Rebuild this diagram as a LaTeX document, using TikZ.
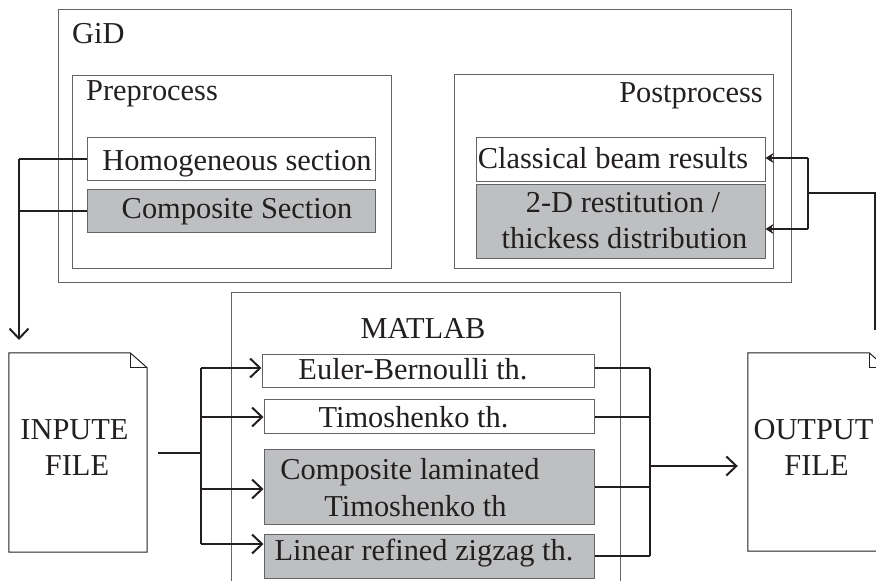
\documentclass[tikz,border=0pt]{standalone}
\usepackage{fontspec}
\setmainfont{Liberation Serif}
\usetikzlibrary{arrows.meta}
\definecolor{frame}{RGB}{100,100,102}
\definecolor{boxfill}{RGB}{190,191,193}
\definecolor{wire}{RGB}{35,31,32}
\begin{document}
\begin{tikzpicture}[x=1pt,y=-1pt,
  txt/.style={font=\fontsize{30.4pt}{36.5pt}\selectfont, inner sep=0pt, anchor=base, text=wire},
  frm/.style={draw=frame, line width=1pt, rectangle, inner sep=0pt},
  wbox/.style={frm, fill=white},
  gbox/.style={frm, fill=boxfill},
  docline/.style={draw=wire, line width=1pt, line join=miter},
  conn/.style={draw=wire, line width=2pt},
  vtip/.style={-{Straight Barb[length=10pt,width=19pt,line width=2pt]}},
  ftip/.style={-{Stealth[length=8pt,width=10pt]}}]
\useasboundingbox (0,0) rectangle (876,581);
\clip (0,0) rectangle (876,581);
% GiD frames
\node[frm, minimum width=733pt, minimum height=273pt] (gid) at (424.5,145.5) {};
\node[frm, minimum width=319pt, minimum height=193pt] (pre) at (231.5,171.5) {};
\node[frm, minimum width=319pt, minimum height=194pt] (post) at (613.5,171) {};
\node[txt, anchor=base west] (gidt) at (72,43) {GiD};
\node[txt, anchor=base west] (pret) at (86,100) {Preprocess};
\node[txt, anchor=base east] (postt) at (763,102) {Postprocess};
% GiD boxes
\node[wbox, minimum width=288pt, minimum height=43pt] (homo) at (231,158.5) {};
\node[gbox, minimum width=288pt, minimum height=43pt] (comp) at (231,210.5) {};
\node[wbox, minimum width=289pt, minimum height=44pt] (clas) at (620.5,159) {};
\node[gbox, minimum width=289pt, minimum height=74pt] (twod) at (620.5,221) {};
\node[txt] (homot) at (237,170) {Homogeneous section};
\node[txt] (compt) at (237,218) {Composite Section};
\node[txt] (clast) at (613,168) {Classical beam results};
\node[txt] (twodt1) at (623,212) {2-D restitution /};
\node[txt] (twodt2) at (624.5,248) {thickess distribution};
% MATLAB
\node[frm, minimum width=389pt, minimum height=308pt] (matlab) at (425.5,446) {};
\node[txt] (matlabt) at (423,338) {MATLAB};
\node[wbox, minimum width=332pt, minimum height=33pt] (eb) at (428,370.5) {};
\node[wbox, minimum width=330pt, minimum height=34pt] (timo) at (429,416) {};
\node[gbox, minimum width=330pt, minimum height=75pt] (cl) at (429,486.5) {};
\node[gbox, minimum width=330pt, minimum height=44pt] (lin) at (429,556) {};
\node[txt] (ebt) at (413,379) {Euler-Bernoulli th.};
\node[txt] (timot) at (413.5,427) {Timoshenko th.};
\node[txt] (clt1) at (410,479) {Composite laminated};
\node[txt] (clt2) at (415.5,516) {Timoshenko th};
\node[txt] (lint) at (424,560) {Linear refined zigzag th.};
% documents
\node[minimum width=138pt, minimum height=199pt, inner sep=0pt] (infile) at (78,452.5) {};
\draw[docline] (infile.south west) -- (infile.north west) -- ([xshift=-17pt]infile.north east)
  -- ([yshift=-15pt]infile.north east) -- (infile.south east) -- cycle;
\draw[docline] ([xshift=-17pt]infile.north east) |- ([yshift=-15pt]infile.north east);
\node[txt] (int1) at (74.5,439) {INPUTE};
\node[txt] (int2) at (77,475) {FILE};
\node[minimum width=138pt, minimum height=198pt, inner sep=0pt] (outfile) at (817,452) {};
\draw[docline] (outfile.south west) -- (outfile.north west) -- ([xshift=-17pt]outfile.north east)
  -- ([yshift=-15pt]outfile.north east) -- (outfile.south east) -- cycle;
\draw[docline] ([xshift=-17pt]outfile.north east) |- ([yshift=-15pt]outfile.north east);
\node[txt] (outt1) at (813.5,439) {OUTPUT};
\node[txt] (outt2) at (816.5,475) {FILE};
% left connector (GiD preprocess -> input file)
\coordinate (lj1) at (19,158.5);
\coordinate (lj2) at (19,210.5);
\coordinate (ltip) at (19,340);
\draw[conn] (homo.west) -- (lj1);
\draw[conn] (comp.west) -- (lj2);
\draw[conn, vtip] (lj1) -- (ltip);
% input file -> MATLAB
\coordinate (ij) at (201,452.5);
\coordinate (mj1) at (201,368);
\coordinate (mj2) at (201,417);
\coordinate (mj3) at (201,489);
\coordinate (mj4) at (201,544);
\draw[conn, shorten <=11pt] (infile.east) -- (ij);
\draw[conn] (mj1) -- (mj4);
\draw[conn, vtip] (mj1) -- (eb.west |- mj1);
\draw[conn, vtip] (mj2) -- (timo.west |- mj2);
\draw[conn, vtip] (mj3) -- (cl.west |- mj3);
\draw[conn, vtip] (mj4) -- (lin.west |- mj4);
% MATLAB -> output file
\coordinate (oj1) at (650,368);
\coordinate (oj2) at (650,417);
\coordinate (oj3) at (650,486.5);
\coordinate (oj4) at (650,556);
\coordinate (ojm) at (650,466);
\draw[conn] (eb.east |- oj1) -- (oj1);
\draw[conn] (timo.east |- oj2) -- (oj2);
\draw[conn] (cl.east) -- (oj3);
\draw[conn] (lin.east) -- (oj4);
\draw[conn] (oj1) -- (oj4);
\draw[conn, vtip, shorten >=10pt] (ojm) -- (outfile.west |- ojm);
% output file -> postprocess
\coordinate (rend) at (875,330);
\coordinate (rtop) at (875,193);
\coordinate (rjm) at (808,193);
\coordinate (rj1) at (808,158);
\coordinate (rj2) at (808,229);
\draw[conn] (rend) -- (rtop) -- (rjm);
\draw[conn] (rj1) -- (rj2);
\draw[conn, ftip] (rj1) -- (clas.east |- rj1);
\draw[conn, ftip] (rj2) -- (twod.east |- rj2);
\end{tikzpicture}
\end{document}
